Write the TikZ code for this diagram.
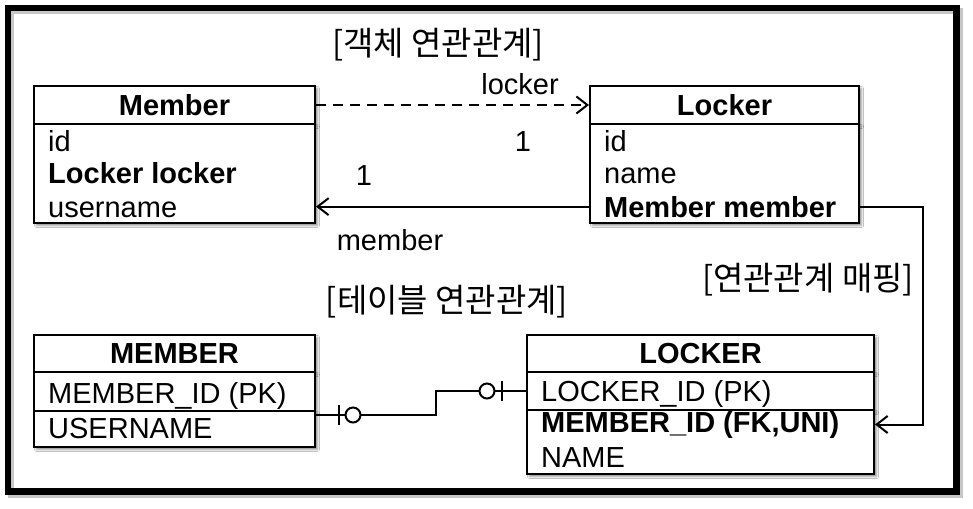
\documentclass[tikz,border=0pt]{standalone}
\usepackage{fontspec}
\setmainfont{Liberation Sans}
\newfontfamily\kofont{Noto Sans CJK KR}
\usetikzlibrary{arrows.meta,shadows.blur}

\begin{document}
\begin{tikzpicture}[
  x=1pt, y=-1pt,
  shade/.style={blur shadow={shadow xshift=2.5pt, shadow yshift=-2.5pt, shadow blur radius=2pt, shadow opacity=45}},
  headbox/.style={rectangle, draw, line width=2pt, fill=white, inner sep=0pt, shade,
    font=\fontsize{29}{34}\selectfont\bfseries},
  bodybox/.style={rectangle, draw, line width=2pt, fill=white, inner sep=0pt, shade},
  field/.style={anchor=base west, inner sep=0pt, font=\fontsize{29}{34}\selectfont},
  keyfield/.style={field, font=\fontsize{29}{34}\selectfont\bfseries},
  note/.style={anchor=base, inner sep=0pt, font=\fontsize{29}{34}\selectfont},
  heading/.style={inner sep=0pt, font=\kofont\fontsize{33}{38}\selectfont},
  link/.style={draw=black, line width=2pt},
  barb/.style={-{Straight Barb[length=11pt, width=17pt, line width=2pt]}},
  ring/.style={circle, draw, line width=2pt, fill=white, minimum size=15pt, inner sep=0pt},
  tick/.style={rectangle, fill=black, minimum width=2.2pt, minimum height=20pt, inner sep=0pt}
]
  \useasboundingbox (0,0) rectangle (973,508);
  \fill[white] (0,0) rectangle (973,508);
  \draw[line width=6.5pt, black!22] (11,11) rectangle (959.5,494.5);
  \draw[line width=6.5pt] (8,8) rectangle (956.5,491.5);

  \node[heading] (objrel) at (438,45) {[객체 연관관계]};
  \node[heading] (tblrel) at (447,302) {[테이블 연관관계]};
  \node[heading] (maprel) at (808,280) {[연관관계 매핑]};

  \node[headbox, minimum width=281pt, minimum height=38pt] (member) at (174.5,105) {Member};
  \node[bodybox, minimum width=281pt, minimum height=99pt] (memberbody) at (174.5,173.5) {};
  \node[field] (mid) at (48,151) {id};
  \node[keyfield] (mlocker) at (48,183) {Locker locker};
  \node[field] (muser) at (48,217) {username};

  \node[headbox, minimum width=269pt, minimum height=38pt] (locker) at (724.5,105) {Locker};
  \node[bodybox, minimum width=269pt, minimum height=99pt] (lockerbody) at (724.5,173.5) {};
  \node[field] (lid) at (604,151) {id};
  \node[field] (lname) at (604,183) {name};
  \node[keyfield] (lmember) at (604,217) {Member member};

  \node[headbox, minimum width=281pt, minimum height=37pt] (MEMBER) at (174.5,353.5) {MEMBER};
  \node[bodybox, minimum width=281pt, minimum height=39pt] (MEMBERpk) at (174.5,391.5) {};
  \node[bodybox, minimum width=281pt, minimum height=36pt] (MEMBERcol) at (174.5,429) {};
  \node[field] (Mpk) at (48,403) {MEMBER\_ID (PK)};
  \node[field] (Muser) at (48,438) {USERNAME};

  \node[headbox, minimum width=347pt, minimum height=37pt] (LOCKER) at (700.5,353.5) {LOCKER};
  \node[bodybox, minimum width=347pt, minimum height=38pt] (LOCKERpk) at (700.5,391) {};
  \node[bodybox, minimum width=347pt, minimum height=64pt] (LOCKERbody) at (700.5,442) {};
  \node[field] (Lpk) at (541,401) {LOCKER\_ID (PK)};
  \node[keyfield] (Lfk) at (541,432) {MEMBER\_ID (FK,UNI)};
  \node[field] (Lname) at (541,467) {NAME};

  \draw[link, dash pattern=on 10pt off 7pt, barb] (member.east) -- (locker.west);
  \node[note] (nlocker) at (520,95) {locker};
  \node[note] (one1) at (523,151) {1};

  \draw[link, barb] (lockerbody.west |- lmember) -- (memberbody.east |- lmember);
  \node[note] (one2) at (364,185) {1};
  \node[note] (nmember) at (390,250) {member};

  \coordinate (turn) at (923,207);
  \draw[link, barb] (lockerbody.east |- turn) -- (turn) |- (LOCKERbody.east |- Lfk);

  \coordinate (jog) at (436,415);
  \draw[link] (MEMBERcol.east |- jog) -- (jog) |- (LOCKERpk.west);
  \node[tick] (t1) at (339,415) {};
  \node[ring] (r1) at (353,415) {};
  \node[ring] (r2) at (487,391) {};
  \node[tick] (t2) at (502,391) {};
\end{tikzpicture}
\end{document}
